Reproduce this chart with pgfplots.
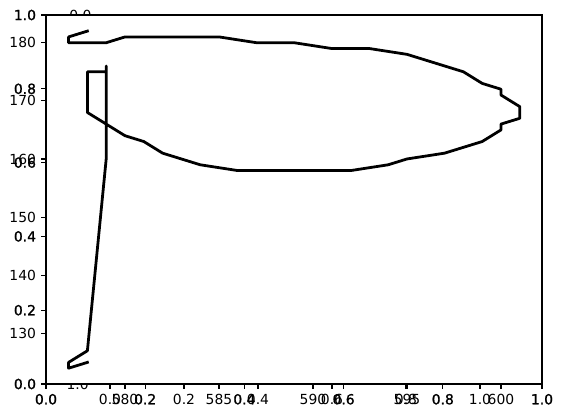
\documentclass[border=0pt]{standalone}
\usepackage{pgfplots}
\pgfplotsset{compat=1.18}
\usepackage{fontspec}
\setmainfont{DejaVu Sans}
\newfontfamily\heavyfont[FakeBold=1.2]{DejaVu Sans}
\begin{document}
\begin{tikzpicture}[x=1pt,y=1pt]
\pgfplotsset{
  base/.style={scale only axis, width=357.12pt, height=265.68pt,
    at={(33.12pt,24.48pt)}, anchor=south west,
    tick align=outside, major tick length=3.5pt,
    tick style={black,line width=0.8pt}, tick pos=left,
    /pgf/number format/assume math mode=true,
    ticklabel style={font=\fontsize{10}{12}\selectfont, inner sep=0pt},
    xticklabel style={anchor=north, yshift=-3.5pt},
    yticklabel style={anchor=east, xshift=-3.5pt},
    axis line style={line width=0.8pt, black}},
  noline/.style={axis line style={draw=none}},
}
\path (0,0) rectangle (405.36,300.96);
% half-hidden labels of a covered axis
\begin{scope}
  \clip (0,0) rectangle (405.36,24.48);
  \node[anchor=east, inner sep=0pt, font=\fontsize{10}{12}\selectfont] at (64.0,24.48) {1.0};
\end{scope}
\begin{scope}
  \clip (0,290.16) rectangle (405.36,300.96);
  \node[anchor=east, inner sep=0pt, font=\fontsize{10}{12}\selectfont] at (66.0,290.16) {0.0};
\end{scope}
% main axis (labels look heavier: drawn twice in the original)
\begin{axis}[base,
  ticklabel style={font=\heavyfont\fontsize{10}{12}\selectfont},
  xmin=0, xmax=1, ymin=0, ymax=1,
  xtick={0,0.2,0.4,0.6,0.8,1}, xticklabels={0.0,0.2,0.4,0.6,0.8,1.0},
  ytick={0,0.2,0.4,0.6,0.8,1}, yticklabels={0.0,0.2,0.4,0.6,0.8,1.0}]
\end{axis}
% third x axis
\begin{axis}[base, noline,
  xmin=-0.172973, xmax=1.167568, ymin=0, ymax=1, ytick=\empty,
  xtick={0,0.2,0.4,0.6,0.8,1}, xticklabels={0.0,0.2,0.4,0.6,0.8,1.0}]
\end{axis}
% data axis
\begin{axis}[base, noline,
  xmin=575.798, xmax=602.181, ymin=121.28, ymax=184.77,
  xtick={580,585,590,595,600}, xticklabels={580,585,590,595,600},
  ytick={130,140,150,160,170,180}, yticklabels={130,140,150,160,170,180}]
\addplot[black, line width=2pt, line join=round, line cap=rect] coordinates {
(578,182) (577,181) (577,180) (579,180) (580,181) (585,181) (587,180) (589,180)
(591,179) (593,179) (595,178) (598,175) (599,173) (600,172) (600,171) (601,169)
(601,167) (600,166) (600,165) (599,163) (597,161) (595,160) (594,159) (592,158)
(586,158) (584,159) (582,161) (581,163) (580,164) (578,168) (578,175) (579,175)
(579,176) (579,160) (578,127) (577,125) (577,124) (578,125)
};
\end{axis}
\end{tikzpicture}
\end{document}
